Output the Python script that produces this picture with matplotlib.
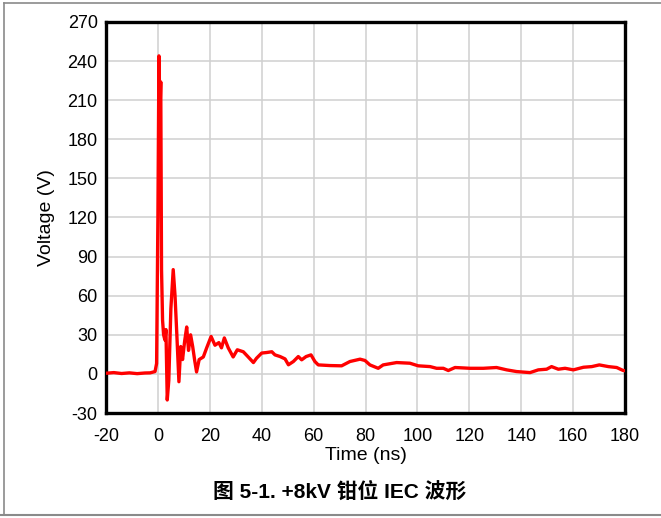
import matplotlib
matplotlib.use("Agg")
import matplotlib.pyplot as plt
from matplotlib.lines import Line2D

# ---- data ----
time_ns = [-20, -17, -14, -11, -8, -5, -3, -1.1, -0.5, 0.0, 0.4, 0.8, 1.1, 1.4, 1.8, 2.2, 2.7, 3.1, 3.6, 4.2,
           5.0, 5.9, 6.6, 7.3, 8.1, 8.8, 9.5, 10.3, 11.1, 11.8, 12.6, 13.4, 14.2, 14.9, 15.9, 17.5, 18.8,
           20.5, 22.0, 23.5, 24.5, 25.6, 27.1, 29.0, 30.6, 32.9, 34.8, 36.8, 38.0, 40.0, 41.9, 43.9, 45.1,
           47.1, 49.0, 50.3, 52.2, 54.1, 55.4, 57.1, 59.0, 60.5, 61.8, 66.3, 70.8, 74.0, 77.9, 79.8, 81.7,
           84.9, 86.8, 92.0, 97.1, 100.3, 104.9, 107.4, 110.0, 111.9, 114.5, 120.3, 125.4, 130.5, 134.4,
           138.2, 143.4, 146.6, 149.8, 151.7, 154.3, 156.9, 160.1, 164.0, 167.2, 170.1, 173.6, 176.8,
           179.3, 180]
voltage_v = [0.5, 1.0, 0.3, 0.8, 0.2, 0.7, 0.8, 1.8, 8, 120, 244, 200, 224, 80, 41, 30, 26, 34, -20, -5,
             50, 80, 60, 30, -6, 21, 11, 25, 36, 18, 30, 21, 10, 1.5, 11, 13, 20,
             28.7, 22, 24, 20, 27.6, 20, 13, 18.5, 17, 13, 8.7, 12, 16, 16.4, 17, 14.6,
             13.3, 11.5, 7, 9.5, 13.3, 10.8, 13.3, 14.6, 9.5, 6.9, 6.4, 6.2, 9.5, 11.3, 10.3, 6.9,
             4.3, 6.9, 8.7, 8.2, 6.2, 5.6, 4.3, 4.3, 2.6, 4.9, 4.3, 4.3, 4.9, 3.1,
             1.8, 1.0, 3.1, 3.6, 5.6, 3.6, 4.3, 3.1, 5.1, 5.6, 6.9, 5.6, 4.9,
             2.6, 2.5]

x_ticks = [-20, 0, 20, 40, 60, 80, 100, 120, 140, 160, 180]
y_ticks = [-30, 0, 30, 60, 90, 120, 150, 180, 210, 240, 270]
x_label = "Time (ns)"
y_label = "Voltage (V)"
caption = "图 5-1. +8kV 钳位 IEC 波形"

# ---- figure ----
plt.rcParams['font.family'] = ['Liberation Sans', 'Noto Sans CJK SC', 'DejaVu Sans']
fig = plt.figure(figsize=(6.61, 5.18), dpi=100)
ax = fig.add_axes([106/661, 1 - 413/518, (625 - 106)/661, (413 - 22)/518])

ax.plot(time_ns, voltage_v, color='#ff0000', lw=2.4, solid_joinstyle='round', zorder=3)

ax.set_xlim(-20, 180)
ax.set_ylim(-30, 270)
ax.set_xticks(x_ticks)
ax.set_yticks(y_ticks)
ax.set_xticklabels([str(v) for v in x_ticks], fontsize=13)
ax.set_yticklabels([str(v) for v in y_ticks], fontsize=13)
ax.tick_params(length=0, pad=6)
ax.tick_params(axis='x', pad=11)
ax.grid(True, color='#d0d0d0', lw=1.1)
ax.set_axisbelow(True)
for s in ax.spines.values():
    s.set_linewidth(2.4)
    s.set_color('black')

ax.set_xlabel(x_label, fontsize=14, labelpad=1)
ax.set_ylabel(y_label, fontsize=14, labelpad=9)

fig.text(340/661, 1 - 492/518, caption, ha='center', va='center', fontsize=15, fontweight='bold')

# figure frame
frame_c = '#8a8a8a'
fig.add_artist(Line2D([4/661, 4/661], [1 - 515/518, 1 - 3/518], color=frame_c, lw=1.2, transform=fig.transFigure))
fig.add_artist(Line2D([4/661, 1], [1 - 3/518, 1 - 3/518], color=frame_c, lw=1.2, transform=fig.transFigure))
fig.add_artist(Line2D([0, 1], [1 - 515/518, 1 - 515/518], color=frame_c, lw=1.5, transform=fig.transFigure))

fig.savefig("out.png", dpi=100)
